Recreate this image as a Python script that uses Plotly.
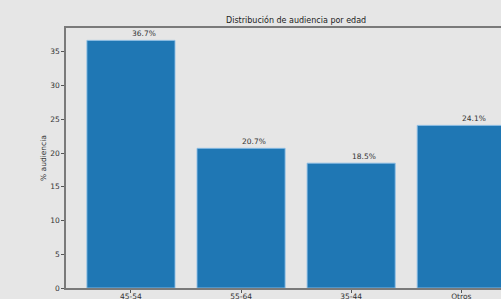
import plotly.graph_objects as go

categories = ["45-54", "55-64", "35-44", "Otros"]
values = [36.7, 20.7, 18.5, 24.1]
labels = [f"{v:.1f}%" for v in values]
yticks = [0, 5, 10, 15, 20, 25, 30, 35]

xpos = list(range(len(categories)))
font = "DejaVu Sans"
txt = "#333333"

fig = go.Figure()
fig.add_trace(go.Bar(
    x=xpos, y=values, width=0.8,
    marker=dict(color="#1f77b4", line=dict(color="rgba(140,190,230,0.9)", width=1)),
    showlegend=False, hoverinfo="skip",
))
for xv, v, lab in zip(xpos, values, labels):
    fig.add_annotation(x=xv, y=v, text=lab, showarrow=False, xanchor="left",
                       yanchor="bottom", yshift=0, xshift=-1,
                       font=dict(family=font, size=7.5, color=txt))

fig.update_layout(
    width=501, height=299,
    margin=dict(l=66, r=0, t=28, b=11, autoexpand=False),
    paper_bgcolor="#e6e6e6", plot_bgcolor="#e6e6e6",
    title=dict(text="Distribución de audiencia por edad", x=0.529, xanchor="center",
               xref="paper", y=1, yref="paper", yanchor="bottom", pad=dict(b=5),
               font=dict(family=font, size=8, color="#222222")),
    font=dict(family=font, size=7.5, color=txt),
    bargap=0.2,
)
fig.update_xaxes(
    range=[-0.59, 3.361], tickmode="array", tickvals=xpos, ticktext=categories,
    showgrid=False, zeroline=False, showline=True, mirror=True, automargin=False,
    linecolor="#7a7a7a", linewidth=1.5, ticks="outside", ticklen=3,
    ticklabelstandoff=-3,
    tickcolor="#555555", tickfont=dict(family=font, size=7.5, color=txt),
)
fig.update_yaxes(
    range=[0, 38.535], tickmode="array", tickvals=yticks,
    showgrid=False, zeroline=False, showline=True, mirror=False, automargin=False,
    linecolor="#7a7a7a", linewidth=1.5, ticks="outside", ticklen=3,
    tickcolor="#555555", tickfont=dict(family=font, size=7.5, color=txt),
    title=dict(text="% audiencia", font=dict(family=font, size=7.5, color=txt), standoff=3),
)
fig.write_html(
    "out.html",
    config={"displayModeBar": False},
    post_script="document.body.style.margin='0';document.body.style.overflow='hidden';"
                "document.body.style.background='#e6e6e6';",
)
